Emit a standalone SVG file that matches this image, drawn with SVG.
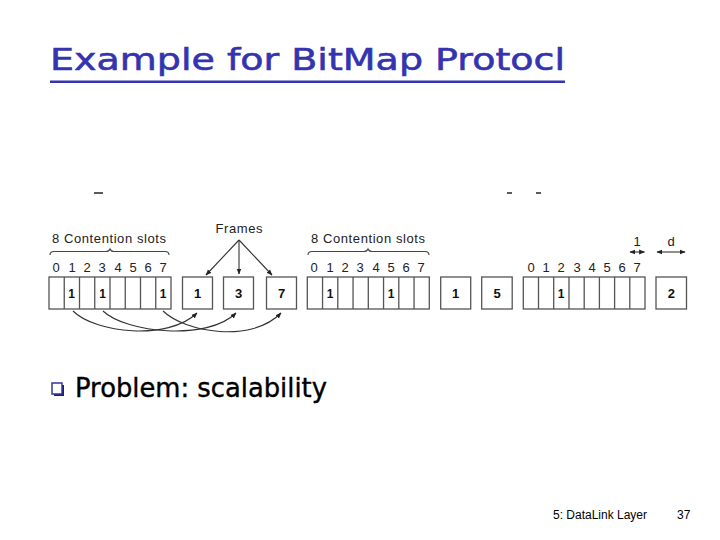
<svg xmlns="http://www.w3.org/2000/svg" width="720" height="540" viewBox="0 0 720 540">
<style>
.title{font-family:"DejaVu Sans","Liberation Sans",sans-serif;font-size:31px;fill:#3434b0;stroke:#3434b0;stroke-width:0.6}
.body{font-family:"DejaVu Sans","Liberation Sans",sans-serif;font-size:26px;fill:#000;stroke:#000;stroke-width:0.4}
.lbl{font-family:"Liberation Sans",Arial,sans-serif;font-size:13px;fill:#222}
.dig{font-family:"Liberation Sans",Arial,sans-serif;font-size:13px;fill:#222;text-anchor:middle}
.num{font-family:"Liberation Sans",Arial,sans-serif;font-size:12px;font-weight:bold;fill:#111;text-anchor:middle}
.fnum{font-family:"Liberation Sans",Arial,sans-serif;font-size:13px;font-weight:bold;fill:#111;text-anchor:middle}
.foot{font-family:"Liberation Sans",Arial,sans-serif;font-size:12px;fill:#000}
.box{fill:#fff;stroke:#555;stroke-width:1.3}
.sep{stroke:#555;stroke-width:1.3}
.brace{fill:none;stroke:#444;stroke-width:1.1}
.con{fill:none;stroke:#333;stroke-width:1.1}
.dash{stroke:#333;stroke-width:1.6}
</style>
<defs>
<marker id="ah" viewBox="0 0 10 10" refX="9" refY="5" markerWidth="6" markerHeight="6" orient="auto-start-reverse" markerUnits="userSpaceOnUse">
<path d="M0,1 L10,5 L0,9 Z" fill="#222"/>
</marker>
</defs>
<rect width="720" height="540" fill="#fff"/>

<g id="title">
<text class="title" x="50" y="70" textLength="515" lengthAdjust="spacingAndGlyphs">Example for BitMap Protocl</text>
<rect x="50" y="80.5" width="515" height="2.5" fill="#3434b0"/>
</g>

<g id="artifacts">
<line class="dash" x1="94" y1="193" x2="103" y2="193"/>
<line class="dash" x1="507" y1="193" x2="512" y2="193"/>
<line class="dash" x1="536" y1="193" x2="541" y2="193"/>
</g>

<g id="slots1">
<text class="lbl" x="52" y="243" textLength="114" lengthAdjust="spacing">8 Contention slots</text>
<path class="brace" d="M50,255 Q50,251.5 54,251.5 L106,251.5 Q109,251.5 110,249 Q111,251.5 114,251.5 L165,251.5 Q169,251.5 169,255"/>
<g>
<text class="dig" x="56" y="272">0</text><text class="dig" x="72" y="272">1</text><text class="dig" x="87" y="272">2</text><text class="dig" x="102" y="272">3</text><text class="dig" x="118" y="272">4</text><text class="dig" x="133" y="272">5</text><text class="dig" x="148" y="272">6</text><text class="dig" x="163" y="272">7</text>
</g>
<rect class="box" x="49" y="277" width="122" height="32"/>
<path class="sep" d="M64.25,277V309M79.5,277V309M94.75,277V309M110,277V309M125.25,277V309M140.5,277V309M155.75,277V309"/>
<text class="num" x="71.5" y="298">1</text>
<text class="num" x="102.5" y="298">1</text>
<text class="num" x="163" y="298">1</text>
</g>

<g id="frame1a"><rect class="box" x="182.5" y="277" width="30" height="32"/><text class="fnum" x="197.5" y="298">1</text></g>
<g id="frame3a"><rect class="box" x="223.5" y="277" width="30" height="32"/><text class="fnum" x="238.5" y="298">3</text></g>
<g id="frame7a"><rect class="box" x="266.5" y="277" width="30" height="32"/><text class="fnum" x="281.5" y="298">7</text></g>

<g id="frames-label"><text class="lbl" x="239" y="233" text-anchor="middle" textLength="47" lengthAdjust="spacing">Frames</text></g>

<g id="slots2">
<text class="lbl" x="311" y="243" textLength="114" lengthAdjust="spacing">8 Contention slots</text>
<path class="brace" d="M308,255 Q308,251.5 312,251.5 L364,251.5 Q367,251.5 368,249 Q369,251.5 372,251.5 L425,251.5 Q429,251.5 429,255"/>
<g>
<text class="dig" x="314" y="272">0</text><text class="dig" x="330" y="272">1</text><text class="dig" x="345" y="272">2</text><text class="dig" x="360" y="272">3</text><text class="dig" x="376" y="272">4</text><text class="dig" x="391" y="272">5</text><text class="dig" x="406" y="272">6</text><text class="dig" x="421" y="272">7</text>
</g>
<rect class="box" x="307.3" y="277" width="122" height="32"/>
<path class="sep" d="M322.55,277V309M337.8,277V309M353.05,277V309M368.3,277V309M383.55,277V309M398.8,277V309M414.05,277V309"/>
<text class="num" x="330" y="298">1</text>
<text class="num" x="391" y="298">1</text>
</g>

<g id="frame1b"><rect class="box" x="440.7" y="277" width="30" height="32"/><text class="fnum" x="455.7" y="298">1</text></g>
<g id="frame5b"><rect class="box" x="481.7" y="277" width="30.5" height="32"/><text class="fnum" x="497" y="298">5</text></g>

<g id="slots3">
<g>
<text class="dig" x="531" y="272">0</text><text class="dig" x="546" y="272">1</text><text class="dig" x="561" y="272">2</text><text class="dig" x="577" y="272">3</text><text class="dig" x="592" y="272">4</text><text class="dig" x="607" y="272">5</text><text class="dig" x="622" y="272">6</text><text class="dig" x="637" y="272">7</text>
</g>
<rect class="box" x="523.3" y="277" width="121.7" height="32"/>
<path class="sep" d="M538.5,277V309M553.7,277V309M569,277V309M584.2,277V309M599.4,277V309M614.6,277V309M629.8,277V309"/>
<text class="num" x="561" y="298">1</text>
</g>

<g id="frame2c"><rect class="box" x="656" y="277" width="30.5" height="32"/><text class="fnum" x="671.3" y="298">2</text></g>

<g id="dim-labels">
<text class="dig" x="637" y="246">1</text>
<text class="dig" x="671" y="246">d</text>
</g>

<g id="connectors">
<line class="con" x1="239" y1="240" x2="206" y2="275" marker-end="url(#ah)"/>
<line class="con" x1="239" y1="240" x2="239" y2="274" marker-end="url(#ah)"/>
<line class="con" x1="239" y1="240" x2="272" y2="275" marker-end="url(#ah)"/>
<path class="con" d="M73,311 C95,333 168,341 197,313" marker-end="url(#ah)"/>
<path class="con" d="M103,311 C126,333 208,341 236,313" marker-end="url(#ah)"/>
<path class="con" d="M163,311 C186,333 252,343 281,313" marker-end="url(#ah)"/>
<line class="con" x1="630" y1="252" x2="644.5" y2="252" marker-start="url(#ah)" marker-end="url(#ah)"/>
<line class="con" x1="657" y1="252" x2="685" y2="252" marker-start="url(#ah)" marker-end="url(#ah)"/>
</g>

<g id="bullet">
<rect x="54" y="385" width="10" height="11" fill="#202060"/>
<rect x="52" y="383" width="10" height="11" fill="#fff" stroke="#3434a0" stroke-width="1.5"/>
<text class="body" x="75" y="397" textLength="252" lengthAdjust="spacingAndGlyphs">Problem: scalability</text>
</g>

<g id="footer">
<text class="foot" x="553" y="519" textLength="94" lengthAdjust="spacing">5: DataLink Layer</text>
<text class="foot" x="677" y="519">37</text>
</g>
</svg>
